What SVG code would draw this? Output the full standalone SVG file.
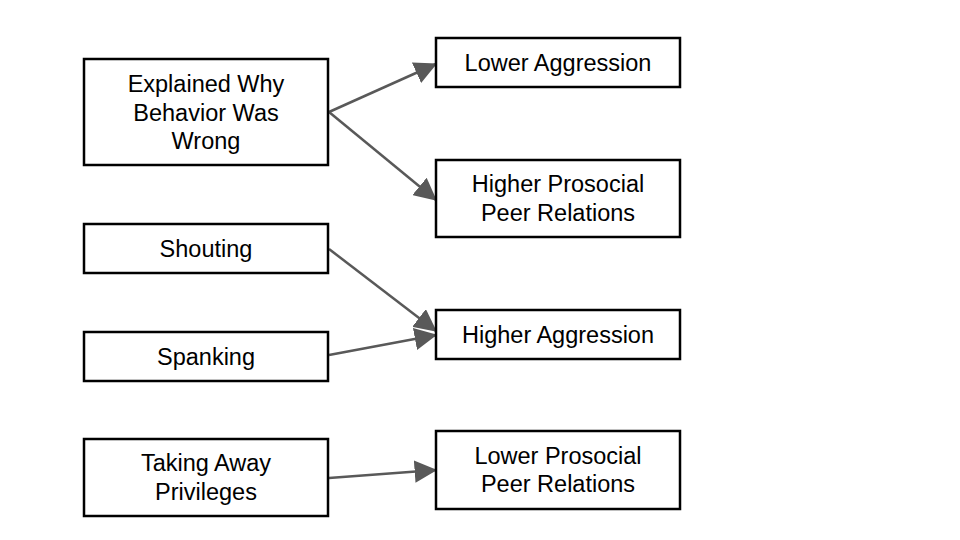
<svg xmlns="http://www.w3.org/2000/svg" width="960" height="540" viewBox="0 0 960 540">
<defs>
<style>
.box{fill:#fff;stroke:#000;stroke-width:2.5}
.t{font-family:"Liberation Sans",Arial,sans-serif;font-size:23.5px;fill:#000;text-anchor:middle}
.c{stroke:#595959;stroke-width:2.5;fill:none;marker-end:url(#ah)}
</style>
<marker id="ah" viewBox="0 0 10 10" refX="9.5" refY="5" markerWidth="9" markerHeight="9" orient="auto"><path d="M0,0 L10,5 L0,10 z" fill="#595959"/></marker>
</defs>
<rect width="960" height="540" fill="#fff"/>
<g id="connectors">
<line class="c" x1="329" y1="112" x2="436" y2="64"/>
<line class="c" x1="329" y1="112" x2="436" y2="200"/>
<line class="c" x1="329" y1="249" x2="436" y2="331"/>
<line class="c" x1="329" y1="355" x2="436" y2="335"/>
<line class="c" x1="329" y1="478" x2="436" y2="470"/>
</g>
<g id="explained">
<rect class="box" x="84" y="59" width="244" height="106"/>
<text class="t" x="206" y="92">Explained Why</text>
<text class="t" x="206" y="120.5">Behavior Was</text>
<text class="t" x="206" y="149">Wrong</text>
</g>
<g id="shouting">
<rect class="box" x="84" y="224" width="244" height="49"/>
<text class="t" x="206" y="256.5">Shouting</text>
</g>
<g id="spanking">
<rect class="box" x="84" y="332" width="244" height="49"/>
<text class="t" x="206" y="364.5">Spanking</text>
</g>
<g id="taking">
<rect class="box" x="84" y="439" width="244" height="77"/>
<text class="t" x="206" y="471">Taking Away</text>
<text class="t" x="206" y="499.5">Privileges</text>
</g>
<g id="lowerAggression">
<rect class="box" x="436" y="38" width="244" height="49"/>
<text class="t" x="558" y="70.5">Lower Aggression</text>
</g>
<g id="higherProsocial">
<rect class="box" x="436" y="160" width="244" height="77"/>
<text class="t" x="558" y="192">Higher Prosocial</text>
<text class="t" x="558" y="220.5">Peer Relations</text>
</g>
<g id="higherAggression">
<rect class="box" x="436" y="310" width="244" height="49"/>
<text class="t" x="558" y="342.5">Higher Aggression</text>
</g>
<g id="lowerProsocial">
<rect class="box" x="436" y="431" width="244" height="78"/>
<text class="t" x="558" y="463.5">Lower Prosocial</text>
<text class="t" x="558" y="492">Peer Relations</text>
</g>
</svg>
